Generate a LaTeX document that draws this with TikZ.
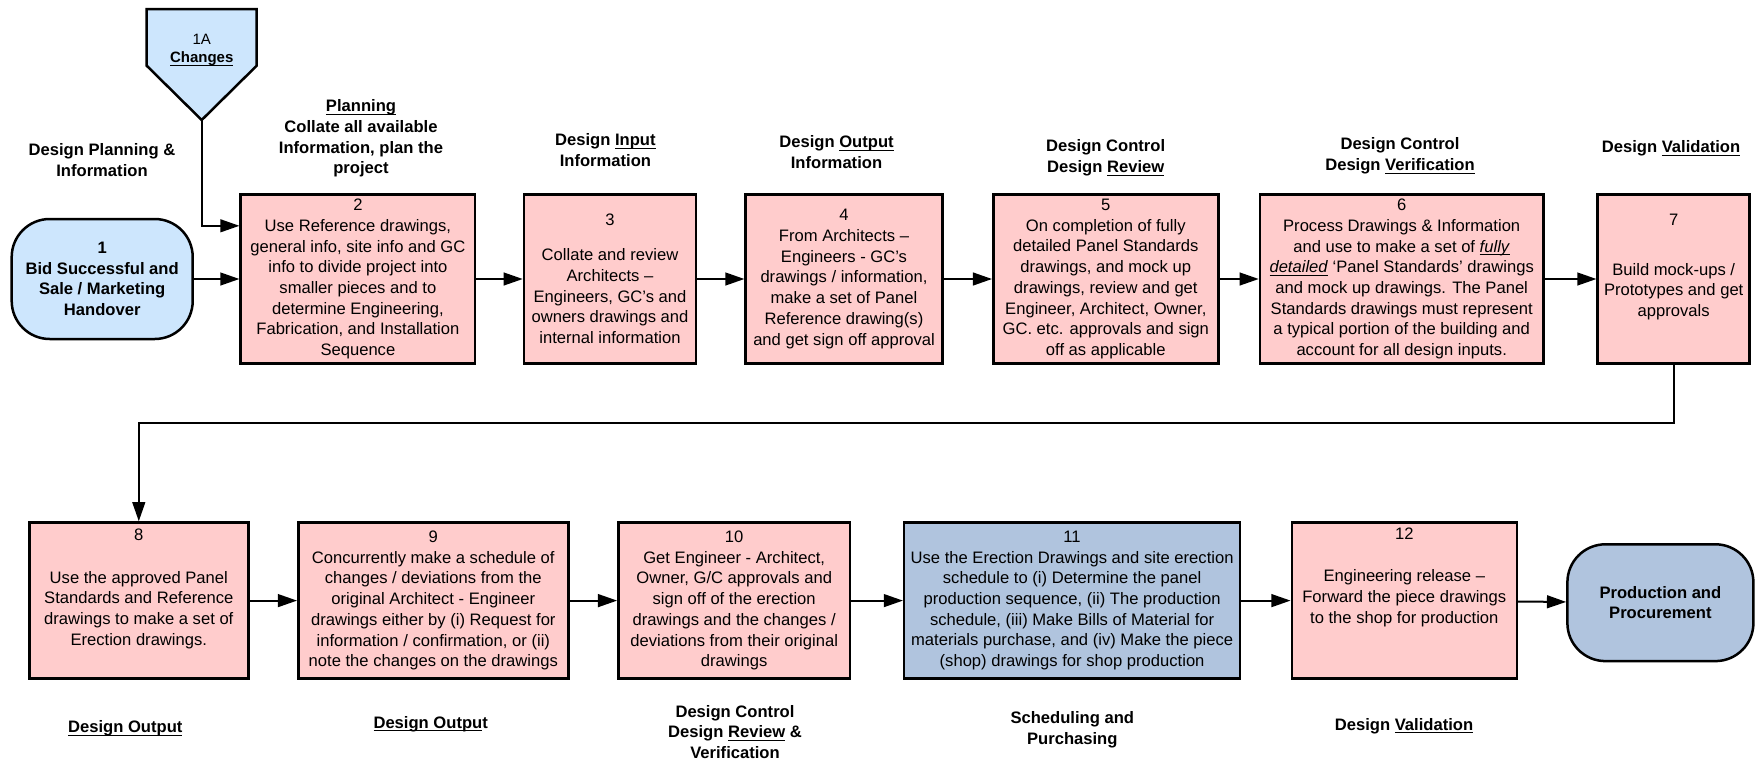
\documentclass[tikz,border=0pt]{standalone}
\usepackage{fontspec}
\setmainfont{Liberation Sans}
\usetikzlibrary{arrows.meta}

\definecolor{boxpink}{RGB}{255,204,204}
\definecolor{skyfill}{RGB}{205,230,253}
\definecolor{steelfill}{RGB}{176,196,222}
\newcommand{\ulin}[1]{\underline{\smash{#1}}\vphantom{#1}}

\begin{document}
\begin{tikzpicture}[x=0.5pt, y=-0.5pt,
	every node/.style={align=center, inner sep=2pt, font=\fontsize{8.3pt}{10.35pt}\selectfont},
	box/.style={draw=black, line width=1.25pt, fill=boxpink, minimum height=84.5pt},
	lowbox/.style={box, minimum height=78.1pt},
	term/.style={draw=black, line width=1.25pt, rounded corners=19pt, font=\fontsize{8.3pt}{10.35pt}\selectfont\bfseries},
	head/.style={font=\fontsize{8.3pt}{10.35pt}\selectfont\bfseries},
	flow/.style={draw=black, line width=1pt, -{Triangle[length=9.6pt, width=6.4pt]}}]
			\useasboundingbox (0,0) rectangle (1758,761);
			
			\filldraw[fill=skyfill, draw=black, line width=1.25pt] (146.7,9) -- (256.7,9) -- (256.7,65.7) -- (201.7,120) -- (146.7,65.7) -- cycle;
			\node[font=\fontsize{7.5pt}{9.15pt}\selectfont] (chg) at (201.7,50) {1A\\\textbf{\ulin{Changes}}};
			\coordinate (chgtip) at (201.7,120);
			
			\node[term, fill=skyfill, minimum width=90.5pt, minimum height=60pt] (s1) at (102.2,279) {1\\Bid Successful and\\Sale / Marketing\\Handover};
			\node[box, minimum width=117.2pt] (b2) at (357.9,279) {2\\Use Reference drawings,\\general info, site info and GC\\info to divide project into\\smaller pieces and to\\determine Engineering,\\Fabrication, and Installation\\Sequence};
			\node[box, minimum width=86pt] (b3) at (610,279) {3\\[7.15pt]Collate and review\\Architects --\\Engineers, GC's and\\owners drawings and\\internal information};
			\node[box, minimum width=98.3pt] (b4) at (844,279) {4\\From Architects --\\Engineers - GC's\\drawings / information,\\make a set of Panel\\Reference drawing(s)\\and get sign off approval};
			\node[box, minimum width=112.5pt] (b5) at (1105.8,279) {5\\On completion of fully\\detailed Panel Standards\\drawings, and mock up\\drawings, review and get\\Engineer, Architect, Owner,\\GC. etc. approvals and sign\\off as applicable};
			\node[box, minimum width=141.7pt] (b6) at (1401.7,279) {6\\Process Drawings \& Information\\and use to make a set of \ulin{\textit{fully}}\\\ulin{\textit{detailed}} `Panel Standards' drawings\\and mock up drawings. The Panel\\Standards drawings must represent\\a typical portion of the building and\\account for all design inputs.};
			\node[box, minimum width=76pt] (b7) at (1673.7,279) {7\\[14.3pt]Build mock-ups /\\Prototypes and get\\approvals\\\strut};
			
			\node[lowbox, minimum width=109.5pt] (b8) at (138.8,600.6) {8\\[10.8pt]Use the approved Panel\\Standards and Reference\\drawings to make a set of\\Erection drawings.\\\strut};
			\node[lowbox, minimum width=135pt] (b9) at (433.3,600.6) {9\\Concurrently make a schedule of\\changes / deviations from the\\original Architect - Engineer\\drawings either by (i) Request for\\information / confirmation, or (ii)\\note the changes on the drawings};
			\node[lowbox, minimum width=115.8pt] (b10) at (734.2,600.6) {10\\Get Engineer - Architect,\\Owner, G/C approvals and\\sign off of the erection\\drawings and the changes /\\deviations from their original\\drawings};
			\node[lowbox, fill=steelfill, minimum width=167.9pt] (b11) at (1072.1,600.6) {11\\Use the Erection Drawings and site erection\\schedule to (i) Determine the panel\\production sequence, (ii) The production\\schedule, (iii) Make Bills of Material for\\materials purchase, and (iv) Make the piece\\(shop) drawings for shop production};
			\node[lowbox, minimum width=112.5pt] (b12) at (1404.3,600.6) {12\\[10.8pt]Engineering release --\\Forward the piece drawings\\to the shop for production\\[11.5pt]\strut};
			\node[term, fill=steelfill, minimum width=93pt, minimum height=58.4pt] (pp) at (1660.4,602.7) {Production and\\Procurement};
			
			\node[head] (t1) at (102,160.4) {Design Planning \&\\Information};
			\node[head] (t2) at (361,138.5) {\ulin{Planning}\\Collate all available\\Information, plan the\\project};
			\node[head] (t3) at (605.4,150.4) {Design \ulin{Input}\\Information};
			\node[head] (t4) at (836.5,152.2) {Design \ulin{Output}\\Information};
			\node[head] (t5) at (1105.7,157.8) {Design Control\\Design \ulin{Review}};
			\node[head] (t6) at (1400,155.9) {Design Control\\Design \ulin{Verification}};
			\node[head] (t7) at (1671,148.3) {Design \ulin{Validation}};
			\node[head] (u8) at (125.3,728.3) {\ulin{Design Output}};
			\node[head] (u9) at (430.7,724) {\ulin{Design Outpu}t};
			\node[head] (u10) at (735,732) {Design Control\\Design \ulin{Review} \&\\Verification};
			\node[head] (u11) at (1072.3,729.7) {Scheduling and\\Purchasing};
			\node[head] (u12) at (1404,726) {Design \ulin{Validation}};
			
			\draw[flow] (chgtip) |- ([yshift=26.6pt]b2.west);
			\path (s1) edge[flow] (b2);
			\path (b2) edge[flow] (b3);
			\path (b3) edge[flow] (b4);
			\path (b4) edge[flow] (b5);
			\path (b5) edge[flow] (b6);
			\path (b6) edge[flow] (b7);
			\coordinate (back) at (138.8,422.7);
			\draw[flow] (b7.south) |- (back) -- (b8.north);
			\path (b8) edge[flow] (b9);
			\path (b9) edge[flow] (b10);
			\path (b10) edge[flow] (b11);
			\path (b11) edge[flow] (b12);
			\path (b12) edge[flow] (pp);
			\end{tikzpicture}
\end{document}
